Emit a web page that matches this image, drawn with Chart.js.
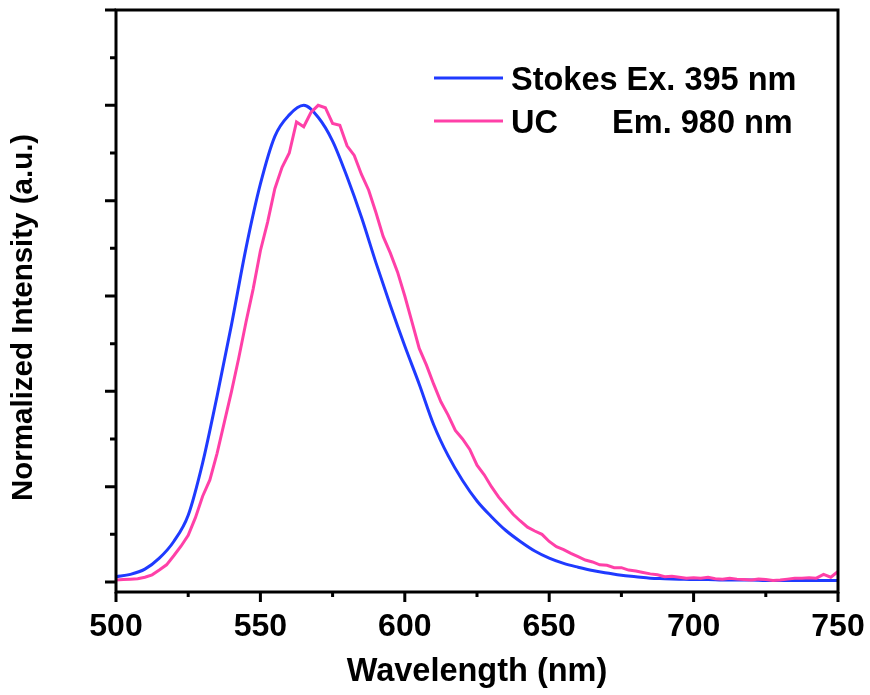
<!DOCTYPE html>
<html>
<head>
<meta charset="utf-8">
<script src="https://cdn.jsdelivr.net/npm/chart.js@4.4.1/dist/chart.umd.min.js"></script>
<style>
  html, body { margin: 0; padding: 0; background: #fff; }
  #wrap { position: relative; width: 870px; height: 695px; }
</style>
</head>
<body>
<div id="wrap"><canvas id="spectrum"></canvas></div>
<script>
// Stokes emission, sampled every 5 nm
const stokesNm = [500, 505, 510, 515, 520, 525, 530, 535, 540, 545,
                  550, 555, 560, 565, 570, 575, 580, 585, 590, 595,
                  600, 605, 610, 615, 620, 625, 630, 635, 640, 645,
                  650, 655, 660, 665, 670, 675, 680, 685, 690, 695,
                  700, 705, 710, 715, 720, 725, 730, 735, 740, 745, 750];

const stokes = [0.011, 0.016, 0.027, 0.050, 0.085, 0.140, 0.250, 0.390, 0.540, 0.700,
                0.835, 0.935, 0.980, 1.000, 0.975, 0.925, 0.850, 0.765, 0.670, 0.580,
                0.495, 0.415, 0.330, 0.265, 0.213, 0.170, 0.137, 0.108, 0.085, 0.065,
                0.050, 0.039, 0.031, 0.024, 0.019, 0.014, 0.011, 0.008, 0.007, 0.006,
                0.005, 0.005, 0.004, 0.004, 0.004, 0.003, 0.003, 0.003, 0.003, 0.003, 0.003];

// upconversion emission, sampled every 2.5 nm (noisier)
const ucNm = [500, 502.5, 505, 507.5, 510, 512.5, 515, 517.5, 520, 522.5,
              525, 527.5, 530, 532.5, 535, 537.5, 540, 542.5, 545, 547.5,
              550, 552.5, 555, 557.5, 560, 562.5, 565, 567.5, 570, 572.5,
              575, 577.5, 580, 582.5, 585, 587.5, 590, 592.5, 595, 597.5,
              600, 602.5, 605, 607.5, 610, 612.5, 615, 617.5, 620, 622.5,
              625, 627.5, 630, 632.5, 635, 637.5, 640, 642.5, 645, 647.5,
              650, 652.5, 655, 657.5, 660, 662.5, 665, 667.5, 670, 672.5,
              675, 677.5, 680, 682.5, 685, 687.5, 690, 692.5, 695, 697.5,
              700, 702.5, 705, 707.5, 710, 712.5, 715, 717.5, 720, 722.5,
              725, 727.5, 730, 732.5, 735, 737.5, 740, 742.5, 745, 747.5, 750];

const upconv = [0.004, 0.005, 0.006, 0.007, 0.010, 0.015, 0.025, 0.036, 0.055, 0.075,
                0.098, 0.135, 0.180, 0.214, 0.270, 0.335, 0.400, 0.470, 0.545, 0.615,
                0.695, 0.755, 0.825, 0.870, 0.900, 0.965, 0.955, 0.985, 1.000, 0.995,
                0.962, 0.958, 0.915, 0.895, 0.855, 0.822, 0.775, 0.725, 0.690, 0.650,
                0.600, 0.545, 0.490, 0.455, 0.415, 0.378, 0.350, 0.318, 0.300, 0.278,
                0.245, 0.225, 0.200, 0.178, 0.160, 0.142, 0.128, 0.115, 0.107, 0.100,
                0.085, 0.074, 0.068, 0.060, 0.053, 0.046, 0.042, 0.036, 0.035, 0.030,
                0.030, 0.025, 0.023, 0.020, 0.017, 0.015, 0.011, 0.012, 0.010, 0.008,
                0.009, 0.008, 0.010, 0.007, 0.006, 0.008, 0.006, 0.005, 0.004, 0.006,
                0.005, 0.003, 0.004, 0.006, 0.008, 0.008, 0.009, 0.008, 0.016, 0.010, 0.022];

const xMajorTicks = [500, 550, 600, 650, 700, 750];
const xMinorTicks = [525, 575, 625, 675, 725];
const yMajorTicks = [0, 0.2, 0.4, 0.6, 0.8, 1.0, 1.2];
const yMinorTicks = [0.1, 0.3, 0.5, 0.7, 0.9, 1.1];

const FONT = '"Liberation Sans", Arial, sans-serif';

const toPoints = (xs, ys) => xs.map((x, i) => ({ x, y: ys[i] }));

// frame + outward tick marks, drawn from the scales
const framePlugin = {
    id: 'frame',
    afterDatasetsDraw(chart) {
        const { ctx, chartArea: a, scales: { x, y } } = chart;
        ctx.save();
        ctx.strokeStyle = '#000';
        ctx.lineWidth = 3;
        ctx.lineCap = 'butt';
        ctx.strokeRect(a.left, a.top, a.right - a.left, a.bottom - a.top);
        ctx.beginPath();
        xMajorTicks.forEach(v => { const px = x.getPixelForValue(v); ctx.moveTo(px, a.bottom); ctx.lineTo(px, a.bottom + 10); });
        xMinorTicks.forEach(v => { const px = x.getPixelForValue(v); ctx.moveTo(px, a.bottom); ctx.lineTo(px, a.bottom + 5); });
        yMajorTicks.forEach(v => { const py = y.getPixelForValue(v); ctx.moveTo(a.left, py); ctx.lineTo(a.left - 11, py); });
        yMinorTicks.forEach(v => { const py = y.getPixelForValue(v); ctx.moveTo(a.left, py); ctx.lineTo(a.left - 6, py); });
        ctx.stroke();
        ctx.restore();
    }
};

const legendPlugin = {
    id: 'insetLegend',
    afterDraw(chart) {
        const ctx = chart.ctx;
        ctx.save();
        ctx.font = 'bold 32.5px ' + FONT;
        ctx.textBaseline = 'alphabetic';
        chart.data.datasets.forEach((ds, i) => {
            const lineY = 78 + i * 43;
            ctx.strokeStyle = ds.borderColor;
            ctx.lineWidth = 3;
            ctx.beginPath();
            ctx.moveTo(434, lineY);
            ctx.lineTo(503, lineY);
            ctx.stroke();
            ctx.fillStyle = '#000';
            ctx.fillText(ds.label, 511, lineY + 11.5);
        });
        ctx.restore();
    }
};

new Chart(document.getElementById('spectrum'), {
    type: 'line',
    data: {
        datasets: [
            {
                label: 'Stokes Ex. 395 nm',
                data: toPoints(stokesNm, stokes),
                borderColor: '#1f3aff',
                borderWidth: 3,
                pointRadius: 0,
                cubicInterpolationMode: 'monotone',
                order: 2,
            },
            {
                label: 'UC      Em. 980 nm',
                data: toPoints(ucNm, upconv),
                borderColor: '#ff40a8',
                borderWidth: 3,
                pointRadius: 0,
                tension: 0,
                order: 1,
            },
        ],
    },
    options: {
        responsive: true,
        maintainAspectRatio: false,
        animation: false,
        layout: { padding: { top: 10, right: 32, left: 0, bottom: 0 } },
        plugins: { legend: { display: false }, tooltip: { enabled: false } },
        scales: {
            x: {
                type: 'linear',
                min: 500,
                max: 750,
                afterBuildTicks: s => { s.ticks = xMajorTicks.map(v => ({ value: v })); },
                afterFit: s => { s.height = 103; s.paddingLeft = 0; s.paddingRight = 0; },
                grid: { display: false, drawTicks: false },
                border: { display: false },
                ticks: { color: '#000', font: { family: FONT, size: 32, weight: 'bold' }, padding: 16, maxRotation: 0, autoSkip: false },
                title: { display: true, text: 'Wavelength (nm)', color: '#000', font: { family: FONT, size: 32.5, weight: 'bold' }, padding: { top: 0, bottom: 3 } },
            },
            y: {
                min: -0.021,
                max: 1.2,
                afterFit: s => { s.width = 116; s.paddingTop = 0; s.paddingBottom = 0; },
                grid: { display: false, drawTicks: false },
                border: { display: false },
                ticks: { display: false },
                title: { display: true, text: 'Normalized Intensity (a.u.)    ', color: '#000', font: { family: FONT, size: 29.5, weight: 'bold' }, padding: { top: 6, bottom: 0 } },
            },
        },
    },
    plugins: [framePlugin, legendPlugin],
});
</script>
</body>
</html>
